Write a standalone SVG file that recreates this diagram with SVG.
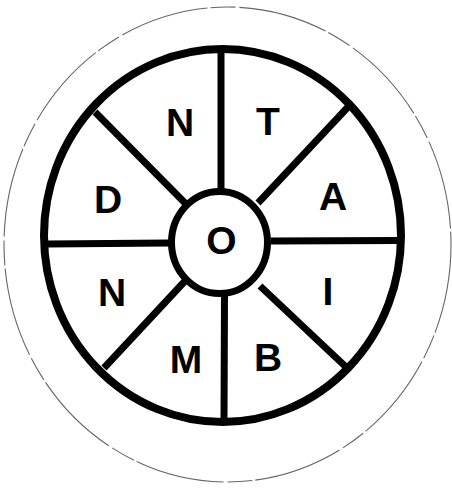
<svg xmlns="http://www.w3.org/2000/svg" width="452" height="488" viewBox="0 0 452 488">
<style>
.lbl{font-family:"Liberation Sans",Arial,sans-serif;font-weight:bold;font-size:39px;fill:#000;text-anchor:middle}
.spoke{stroke:#000;stroke-width:7;stroke-linecap:butt}
</style>
<rect width="452" height="488" fill="#fff"/>
<g id="outer-rim">
<ellipse cx="227.5" cy="244.5" rx="223.5" ry="237.5" fill="none" stroke="#666" stroke-width="1.1" stroke-dasharray="90 3 25 4"/>
</g>
<g id="wheel">
<ellipse cx="222.5" cy="235.5" rx="178.5" ry="186.5" fill="#fff" stroke="#000" stroke-width="8"/>
</g>
<g id="connectors">
<line class="spoke" x1="221" y1="52" x2="221" y2="190"/>
<line class="spoke" x1="224.5" y1="295" x2="224" y2="420"/>
<line class="spoke" x1="47" y1="244" x2="169" y2="243"/>
<line class="spoke" x1="271" y1="241" x2="398" y2="240.5"/>
<line class="spoke" x1="95" y1="112" x2="185" y2="203"/>
<line class="spoke" x1="348" y1="107" x2="258" y2="203"/>
<line class="spoke" x1="104" y1="368" x2="185" y2="281"/>
<line class="spoke" x1="346" y1="367" x2="260" y2="286"/>
</g>
<g id="hub">
<ellipse cx="219.5" cy="242.5" rx="48" ry="51" fill="#fff" stroke="#000" stroke-width="7"/>
<text class="lbl" x="221.5" y="254">O</text>
</g>
<g id="seg-N1"><text class="lbl" x="180" y="136">N</text></g>
<g id="seg-T"><text class="lbl" x="268" y="135">T</text></g>
<g id="seg-A"><text class="lbl" x="333" y="210">A</text></g>
<g id="seg-I"><text class="lbl" x="328" y="305">I</text></g>
<g id="seg-B"><text class="lbl" x="268" y="371">B</text></g>
<g id="seg-M"><text class="lbl" x="186" y="373">M</text></g>
<g id="seg-N2"><text class="lbl" x="112" y="306">N</text></g>
<g id="seg-D"><text class="lbl" x="108" y="213">D</text></g>
</svg>
